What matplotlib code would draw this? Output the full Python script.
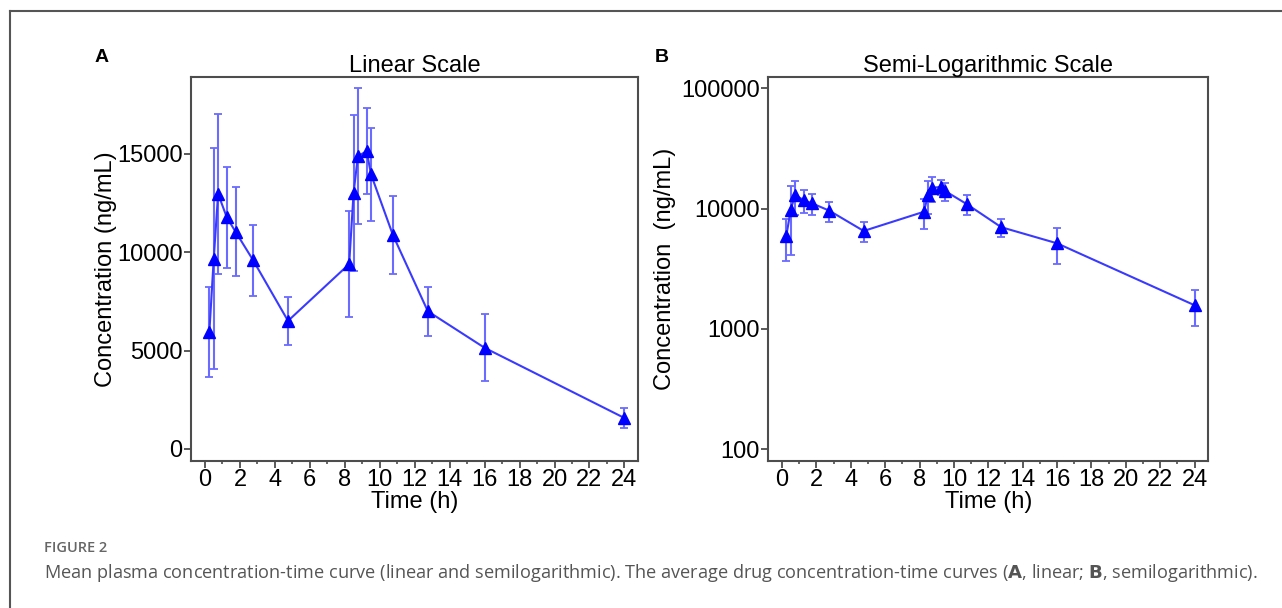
import numpy as np
import matplotlib.pyplot as plt
from matplotlib.ticker import FixedLocator, MultipleLocator, NullLocator

plt.rcParams['font.family'] = ['Liberation Sans', 'DejaVu Sans']

# mean plasma concentration (ng/mL) with SD
time_h = [0.25, 0.5, 0.75, 1.25, 1.75, 2.75, 4.75, 8.25, 8.5, 8.75, 9.25, 9.5, 10.75, 12.75, 16, 24]
conc_mean = [5950, 9680, 12970, 11770, 11040, 9600, 6510, 9400, 13020, 14890, 15140, 13960, 10880, 7000, 5140, 1570]
conc_sd = [2290, 5600, 4050, 2570, 2270, 1800, 1220, 2700, 3960, 3450, 2180, 2350, 1970, 1250, 1710, 520]

x_ticks = list(range(0, 25, 2))
lin_yticks = [0, 5000, 10000, 15000]
log_yticks = [100, 1000, 10000, 100000]
log_ylabels = ['100', '1000', '10000', '100000']

line_col = '#3a3aff'
err_col = '#6b6bff'
frame_col = '#4d4d4d'
fs = 17

fig = plt.figure(figsize=(12.82, 6.08), dpi=100)

axA = fig.add_axes([0.149, 0.2423, 0.349, 0.6306])
axB = fig.add_axes([0.5993, 0.2423, 0.3432, 0.6306])


def draw(ax):
    ax.errorbar(time_h, conc_mean, yerr=conc_sd, fmt='none', ecolor=err_col,
                elinewidth=1.5, capsize=3, capthick=1.3, zorder=2)
    ax.plot(time_h, conc_mean, '-', color=line_col, lw=1.5, zorder=3)
    ax.plot(time_h, conc_mean, '^', color='#0000ff', ms=8, zorder=4)
    ax.set_xlim(-0.8, 24.8)
    ax.set_xticks(x_ticks)
    ax.xaxis.set_minor_locator(MultipleLocator(1))
    ax.tick_params(which='major', direction='out', length=5, width=1.3,
                   color=frame_col, labelsize=fs, pad=1)
    ax.tick_params(axis='x', which='minor', direction='out', length=2.5,
                   width=1.2, color=frame_col)
    for s in ax.spines.values():
        s.set_color(frame_col)
        s.set_linewidth(1.5)
    ax.set_xlabel('Time (h)', fontsize=fs, labelpad=0)


draw(axA)
axA.set_ylim(-600, 18900)
axA.yaxis.set_major_locator(FixedLocator(lin_yticks))
axA.set_ylabel('Concentration (ng/mL)', fontsize=fs, labelpad=0)
axA.set_title('Linear Scale', fontsize=fs, pad=3)

draw(axB)
axB.set_yscale('log')
axB.set_ylim(80, 123500)
axB.yaxis.set_major_locator(FixedLocator(log_yticks))
axB.yaxis.set_minor_locator(NullLocator())
axB.set_yticklabels(log_ylabels)
axB.set_ylabel('Concentration  (ng/mL)', fontsize=fs, labelpad=4)
axB.set_title('Semi-Logarithmic Scale', fontsize=fs, pad=3)

fig.text(102 / 1282, 1 - 58 / 608, 'A', fontsize=14, fontweight='bold',
         ha='center', va='center')
fig.text(662 / 1282, 1 - 58 / 608, 'B', fontsize=14, fontweight='bold',
         ha='center', va='center')

# page frame (top and left edges)
fig.add_artist(plt.Line2D([10 / 1282, 1], [1 - 10.5 / 608, 1 - 10.5 / 608],
                          color='#555555', lw=1.5))
fig.add_artist(plt.Line2D([10 / 1282, 10 / 1282], [0, 1 - 10.5 / 608],
                          color='#555555', lw=1.5))

fig.text(44 / 1282, 1 - 548 / 608, 'FIGURE 2', fontsize=10.5, color='#666666',
         family='Open Sans', fontweight='semibold', va='center')
fig.text(44 / 1282, 1 - 573 / 608,
         'Mean plasma concentration-time curve (linear and semilogarithmic). '
         'The average drug concentration-time curves ($\\mathbf{A}$, linear; '
         '$\\mathbf{B}$, semilogarithmic).',
         fontsize=13.1, color='#555555', family='Open Sans', va='center')

fig.savefig('out.png', dpi=100)
